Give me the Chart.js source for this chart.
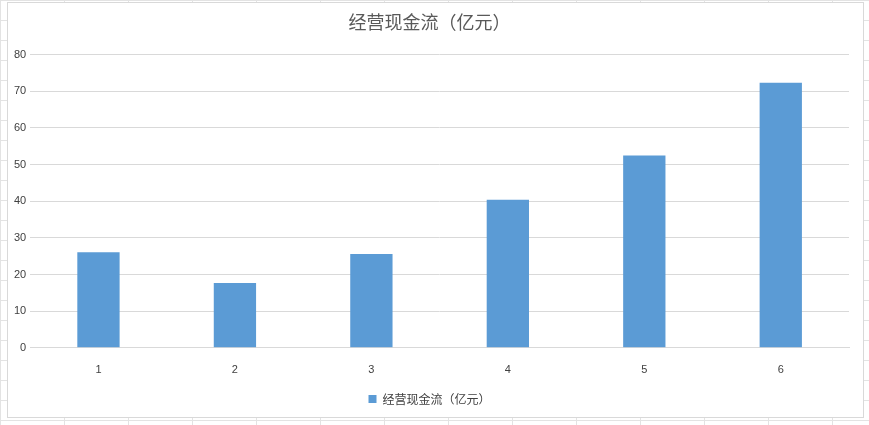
<!DOCTYPE html>
<html lang="zh">
<head>
<meta charset="UTF-8">
<title>经营现金流</title>
<script src="https://cdn.jsdelivr.net/npm/chart.js@4/dist/chart.umd.min.js"></script>
<style>
  html, body { margin: 0; padding: 0; background: #fff; }
  body {
    width: 869px; height: 425px; overflow: hidden;
    background-image:
      linear-gradient(to right, #e3e3e3 1px, transparent 1px),
      linear-gradient(to bottom, #e3e3e3 1px, transparent 1px);
    background-size: 64px 20px;
  }
  .box {
    position: absolute; left: 7px; top: 2px; width: 855px; height: 414px;
    background: #fff; border: 1px solid #d9d9d9;
  }
</style>
</head>
<body>
<div class="box"><canvas id="grafica"></canvas></div>
<script>
  const categories = ['1', '2', '3', '4', '5', '6'];
  const cashFlow = [26.1, 17.7, 25.6, 40.4, 52.5, 72.3];
  const seriesName = '经营现金流（亿元）';

  const config = {
    type: 'bar',
    data: {
      labels: categories,
      datasets: [{
        label: seriesName,
        data: cashFlow,
        backgroundColor: '#5b9bd5',
        barPercentage: 0.31,
        categoryPercentage: 1
      }]
    },
    options: {
      responsive: false,
      animation: false,
      layout: { padding: { left: 2, right: 14, top: 0, bottom: 2 } },
      plugins: {
        title: {
          display: true,
          text: seriesName,
          color: '#595959',
          font: { family: 'Noto Sans CJK SC', size: 18, weight: 'normal' },
          padding: { top: 8, bottom: 22 }
        },
        legend: {
          position: 'bottom',
          labels: {
            color: '#404040',
            boxWidth: 8, boxHeight: 8,
            font: { family: 'Noto Sans CJK SC', size: 12 },
            padding: 8
          }
        },
        tooltip: { enabled: false }
      },
      scales: {
        x: {
          grid: { display: false },
          border: { color: '#d9d9d9' },
          ticks: { color: '#404040', font: { size: 11 }, padding: 8 }
        },
        y: {
          min: 0, max: 80,
          ticks: { stepSize: 10, color: '#404040', font: { size: 11 }, padding: 4 },
          grid: { color: '#d9d9d9', drawTicks: false },
          border: { display: false }
        }
      }
    }
  };

  const cv = document.getElementById('grafica');
  cv.width = 855; cv.height = 414;
  new Chart(cv, config);
</script>
</body>
</html>
